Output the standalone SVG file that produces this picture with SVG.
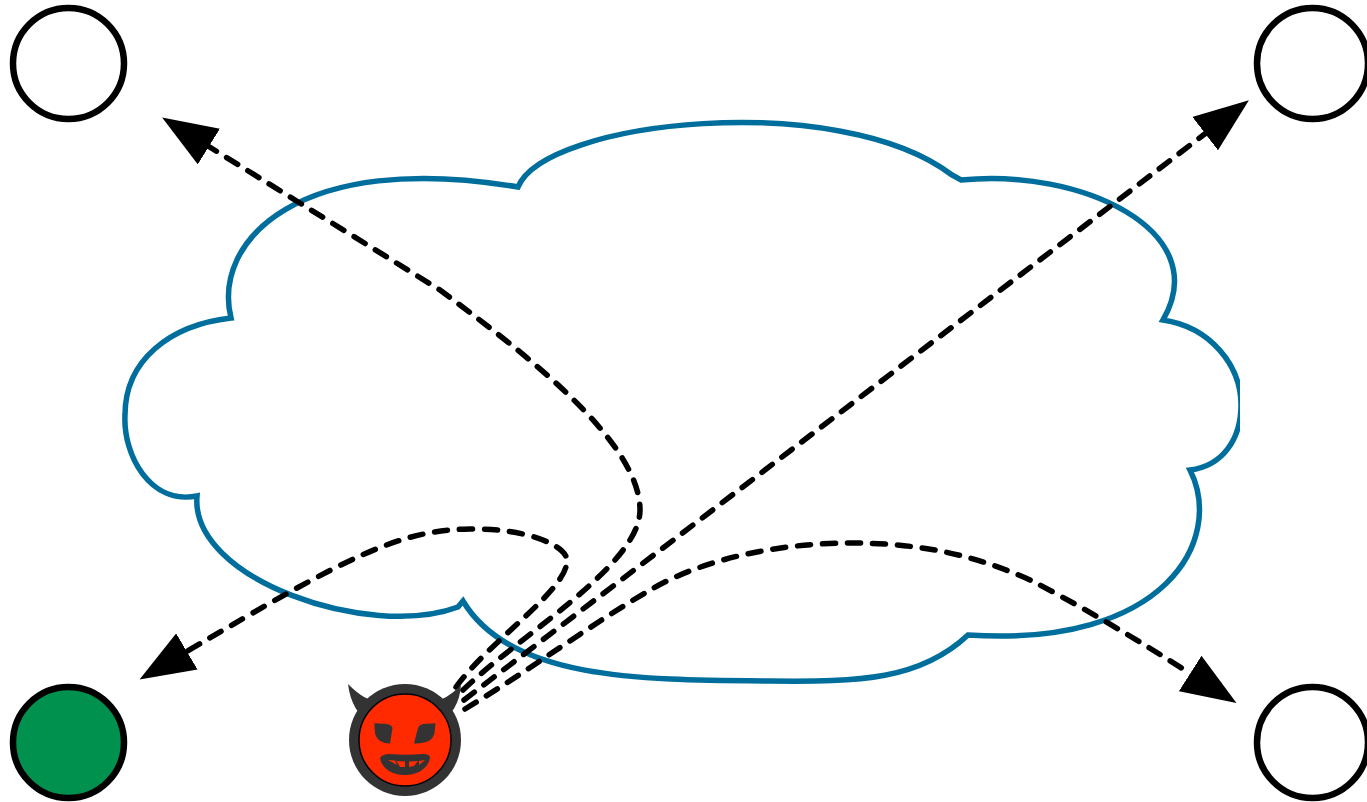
<svg xmlns="http://www.w3.org/2000/svg" width="1367" height="802" viewBox="0 0 1367 802">
<style>
.host{fill:#fff;stroke:#000;stroke-width:6.500}
.cloud{fill:#fff;stroke:#006e9c;stroke-width:5.500;stroke-linejoin:miter}
.link{fill:none;stroke:#000;stroke-width:5.500;stroke-dasharray:13 12;stroke-linecap:round;marker-end:url(#arrow)}
.dark{fill:#333}
.red{fill:#ff2a00}
</style>
<defs>
<marker id="arrow" markerUnits="userSpaceOnUse" viewBox="0 0 55 42" markerWidth="55" markerHeight="42" refX="1" refY="21" orient="auto">
<path d="M0 0L55 21L0 42Z" fill="#000"/>
</marker>
<clipPath id="cloudClip"><rect x="0" y="0" width="1240" height="802"/></clipPath>
</defs>
<g id="cloud" clip-path="url(#cloudClip)">
<path class="cloud" d="M518 187C545 120 840 89 952 175L961 180C1080 168 1215 230 1163 320C1210 327 1241 365 1241 405C1241 440 1222 466 1190 470C1225 540 1165 648 968 635C920 680 860 682 770 681C640 680 510 680 463 601L458 607C370 640 190 580 197 496C150 505 123 455 125 415C125 360 170 325 231 318C212 240 300 150 518 187Z"/>
</g>
<g id="connectors">
<path class="link" d="M456 687C490 640 568 590 567 560C566 545 525 528 470 529C400 530 350 555 186 652"/>
<path class="link" d="M463 690C520 635 640 565 640 510C640 440 520 350 440 290L208 146"/>
<path class="link" d="M464 700L1206 133"/>
<path class="link" d="M465 709C530 670 590 625 650 590C710 555 790 543 850 543C920 543 975 555 1030 580C1070 600 1130 635 1191 674"/>
</g>
<g id="host-top-left"><circle class="host" cx="68.500" cy="63.500" r="55.500"/></g>
<g id="host-top-right"><circle class="host" cx="1312.500" cy="63.500" r="55.500"/></g>
<g id="host-bottom-right"><circle class="host" cx="1312.500" cy="742.500" r="55.500"/></g>
<g id="host-bottom-left"><circle class="host" cx="68.500" cy="742.500" r="55.500" style="fill:#00914f"/></g>
<g id="attacker">
<path class="dark" d="M348 684C362 698 370 701 378 700L372 725C358 716 350 702 348 684Z"/>
<path class="dark" d="M461 685C448 698 440 701 432 700L438 725C452 716 460 702 461 685Z"/>
<circle class="dark" cx="405" cy="740" r="56"/>
<circle class="red" cx="405" cy="740" r="46" stroke="#000" stroke-width="1.500"/>
<path class="dark" d="M374.300 723.300L387 724Q392 725 392.500 728L390 743.500Q377 743 375 733Z"/>
<path class="dark" d="M435.500 723.300L423 724Q419 725 418 728L414 743.500Q432 744 434.500 733Z"/>
<path class="dark" d="M380 758C382 755 385 754 389 754C400 755 412 755 423 754C427 754 430 755 430 758C428 769 417 775 405 775C392 775 382 769 380 758Z"/>
<path class="red" d="M388 760L395 760.500L397 765Z"/>
<path class="red" d="M396.500 761L405 761.500L405 767L400 767Z"/>
<path class="red" d="M409 761.500L418 761L414 766L409 767Z"/>
<path class="red" d="M419 761L425 760L419 765Z"/>
</g>
</svg>
